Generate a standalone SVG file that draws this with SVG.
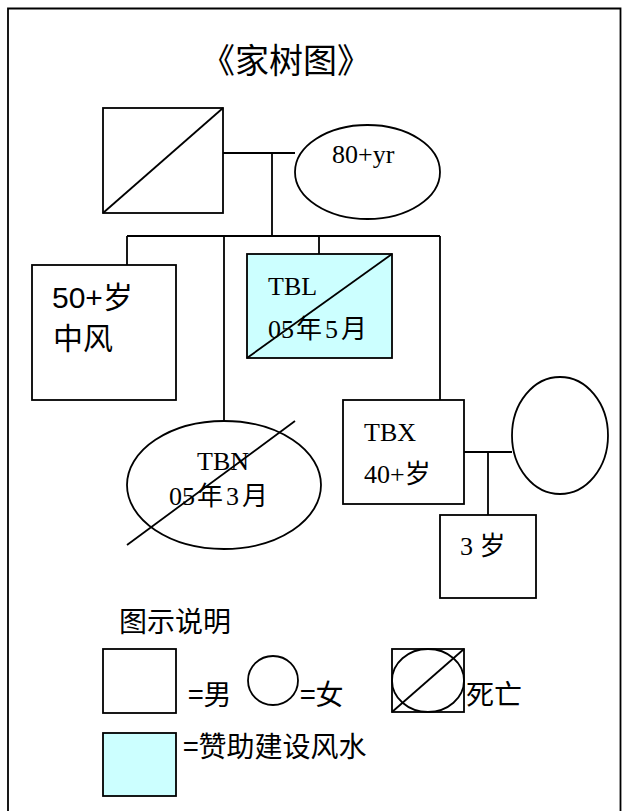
<svg xmlns="http://www.w3.org/2000/svg" width="628" height="811" viewBox="0 0 628 811">
<style>
.s{fill:#fff;stroke:#000;stroke-width:1.8}
.c{fill:#ccffff;stroke:#000;stroke-width:1.8}
.l{fill:none;stroke:#000;stroke-width:1.8}
.t{font-family:"Liberation Serif","Noto Sans CJK SC",serif;font-size:26px;fill:#000}
.a{font-family:"Liberation Sans","Noto Sans CJK SC",sans-serif;font-size:30px;fill:#000}
.k{font-family:"Noto Sans CJK SC","Liberation Sans",sans-serif;font-size:28px;fill:#000}
</style>
<rect x="0" y="0" width="628" height="811" fill="#fff"/>
<path class="l" d="M8,811 V8.5 H620.5 V811" stroke-width="2"/>
<text id="title" class="k" x="201" y="73" style="font-size:34px">《家树图》</text>
<g id="connectors">
<path class="l" d="M223,153 H295 M272,153 V236 M127,236 H440 M127,236 V265 M319,236 V254 M224,236 V421 M440,236 V400 M464,452 H512 M488,452 V515"/>
</g>
<g id="grandfather">
<rect class="s" x="103" y="108" width="120" height="105"/>
<path class="l" d="M103,213 L223,108"/>
</g>
<g id="grandmother">
<ellipse class="s" cx="367.5" cy="172" rx="72.5" ry="47"/>
<text class="t" x="332" y="163">80+yr</text>
</g>
<g id="son50">
<rect class="s" x="32" y="265" width="144" height="135"/>
<text class="a" x="52" y="308">50+岁</text>
<text class="k" x="53" y="349" style="font-size:30px">中风</text>
</g>
<g id="TBL">
<rect class="c" x="247" y="254" width="145" height="104"/>
<text class="t" x="268" y="295">TBL</text>
<text class="t" x="268" y="338">05<tspan dx="2">年</tspan><tspan dx="3">5</tspan><tspan dx="3">月</tspan></text>
<path class="l" d="M247,358 L392,254"/>
</g>
<g id="TBN">
<ellipse class="s" cx="224" cy="485" rx="97" ry="64"/>
<text class="t" x="197" y="470">TBN</text>
<text class="t" x="169" y="505">05<tspan dx="2">年</tspan><tspan dx="3">3</tspan><tspan dx="3">月</tspan></text>
<path class="l" d="M295,421 L127,545"/>
</g>
<g id="TBX">
<rect class="s" x="343" y="400" width="121" height="104"/>
<text class="t" x="364" y="441">TBX</text>
<text class="t" x="364" y="483">40+岁</text>
</g>
<g id="wife">
<ellipse class="s" cx="560" cy="435.5" rx="48" ry="58.5"/>
</g>
<g id="child">
<rect class="s" x="440" y="515" width="96" height="83"/>
<text class="t" x="460" y="555">3 岁</text>
</g>
<g id="legend">
<text class="k" x="119" y="632">图示说明</text>
<rect class="s" x="103" y="649" width="73" height="64"/>
<text class="k" x="188" y="705">=男</text>
<ellipse class="s" cx="273" cy="680.5" rx="25" ry="24.5"/>
<text class="k" x="300" y="705">=女</text>
<rect class="s" x="392" y="649" width="72" height="63"/>
<ellipse class="l" cx="428" cy="680.5" rx="36" ry="31.5"/>
<path class="l" d="M392,712 L464,649"/>
<text class="k" x="466" y="705">死亡</text>
<rect class="c" x="103" y="733" width="73" height="63"/>
<text class="k" x="183" y="757">=赞助建设风水</text>
</g>
</svg>
